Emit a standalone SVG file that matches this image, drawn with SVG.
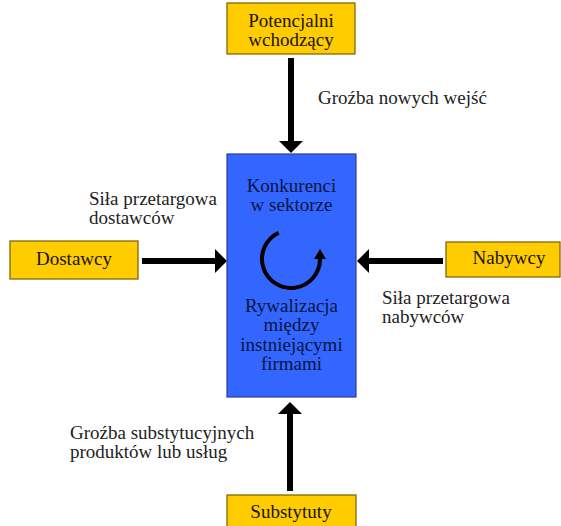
<svg xmlns="http://www.w3.org/2000/svg" width="561" height="526" viewBox="0 0 561 526">
<style>
.y{fill:#FFCC00;stroke:#7a5c00;stroke-width:1.2}
.b{fill:#3366FF;stroke:#2a3f9a;stroke-width:1.2}
.t{font-family:"Liberation Serif",serif;font-size:19px;fill:#1a1400;text-anchor:middle}
.tb{font-family:"Liberation Serif",serif;font-size:19px;fill:#0a1540;text-anchor:middle}
.l{font-family:"Liberation Serif",serif;font-size:19px;fill:#222}
.c{stroke:#000;stroke-width:6;fill:none}
</style>
<defs>
<marker id="ah" markerUnits="userSpaceOnUse" markerWidth="12" markerHeight="24" viewBox="0 0 12 24" refX="0" refY="12" orient="auto">
<path d="M0,0 L12,12 L0,24 z" fill="#000"/>
</marker>
</defs>
<g id="connectors">
<line class="c" x1="291" y1="58" x2="291" y2="141" marker-end="url(#ah)"/>
<line class="c" x1="142" y1="261" x2="215" y2="261" marker-end="url(#ah)"/>
<line class="c" x1="443" y1="261" x2="369" y2="261" marker-end="url(#ah)"/>
<line class="c" x1="290" y1="491" x2="290" y2="414" marker-end="url(#ah)"/>
</g>
<g id="node-potencjalni">
<rect class="y" x="227" y="3" width="128" height="51"/>
<text class="t" x="291" y="27">Potencjalni</text>
<text class="t" x="291" y="46">wchodzący</text>
</g>
<g id="node-konkurenci">
<rect class="b" x="227" y="154" width="129" height="243"/>
<text class="tb" x="291.5" y="192">Konkurenci</text>
<text class="tb" x="291.5" y="211">w sektorze</text>
<path d="M278.7,232.7 A29,29 0 1 0 320,259" fill="none" stroke="#000" stroke-width="4"/>
<path d="M320,249 L326,259 L314,259 z" fill="#000"/>
<text class="tb" x="291.5" y="312">Rywalizacja</text>
<text class="tb" x="291.5" y="331">między</text>
<text class="tb" x="291.5" y="351">instniejącymi</text>
<text class="tb" x="291.5" y="370">firmami</text>
</g>
<g id="node-dostawcy">
<rect class="y" x="10" y="241" width="128" height="38"/>
<text class="t" x="74" y="265">Dostawcy</text>
</g>
<g id="node-nabywcy">
<rect class="y" x="446" y="242" width="114" height="35"/>
<text class="t" x="509" y="264">Nabywcy</text>
</g>
<g id="node-substytuty">
<rect class="y" x="227" y="495" width="129" height="40"/>
<text class="t" x="291" y="518">Substytuty</text>
</g>
<g id="labels">
<text class="l" x="318" y="104">Groźba nowych wejść</text>
<text class="l" x="89" y="205">Siła przetargowa</text>
<text class="l" x="89" y="224">dostawców</text>
<text class="l" x="382" y="304">Siła przetargowa</text>
<text class="l" x="382" y="323">nabywców</text>
<text class="l" x="70" y="439">Groźba substytucyjnych</text>
<text class="l" x="70" y="458">produktów lub usług</text>
</g>
</svg>
